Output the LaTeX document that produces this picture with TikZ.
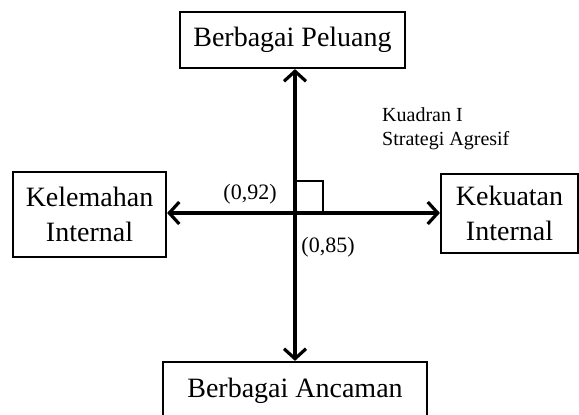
\documentclass[tikz,border=0pt]{standalone}
\usepackage{fontspec}
\setmainfont{Liberation Serif}
\usepackage{tikz}
\usetikzlibrary{arrows.meta}
\tikzset{>={Straight Barb[length=10pt,width=22pt]}}
\tikzset{
  box/.style={draw, line width=2.2pt, inner sep=0pt, align=center,
    font=\fontsize{28}{35}\selectfont},
  axis/.style={<->, line width=3.2pt},
  lbl/.style={inner sep=0pt, font=\fontsize{22}{26}\selectfont}
}

\begin{document}
\begin{tikzpicture}[x=1pt, y=-1pt]

  \useasboundingbox (0,0) rectangle (579,415);

  \newcommand\OX{295};
  \newcommand\OY{213};

  \coordinate (o) at (\OX, \OY);

  \node[box, minimum width=225pt, minimum height=56pt] (peluang) at (292.5, 40) {Berbagai Peluang};
  \node[box, minimum width=264pt, minimum height=58pt] (ancaman) at (295, 391) {Berbagai Ancaman};
  \node[box, minimum width=153pt, minimum height=85pt] (kelemahan) at (89.5, 214.5) {Kelemahan\\Internal};
  \node[box, minimum width=137pt, minimum height=79pt] (kekuatan) at (509.5, 213.5) {Kekuatan\\Internal};

  % sumbu
  \draw[axis] (o |- peluang.south) -- (o |- ancaman.north);
  \draw[axis] (o -| kelemahan.east) -- (o -| kekuatan.west);

  \draw[line width=1.8pt] (o) rectangle ++(28, -32);

  \node[lbl] (x92) at (250, 194) {(0,92)};
  \node[lbl] (x85) at (328, 247) {(0,85)};

  \node[inner sep=0pt, anchor=north west, align=left,
    font=\fontsize{20}{24.5}\selectfont] (kuadran) at (382, 107)
    {Kuadran I\\Strategi Agresif};

\end{tikzpicture}
\end{document}
